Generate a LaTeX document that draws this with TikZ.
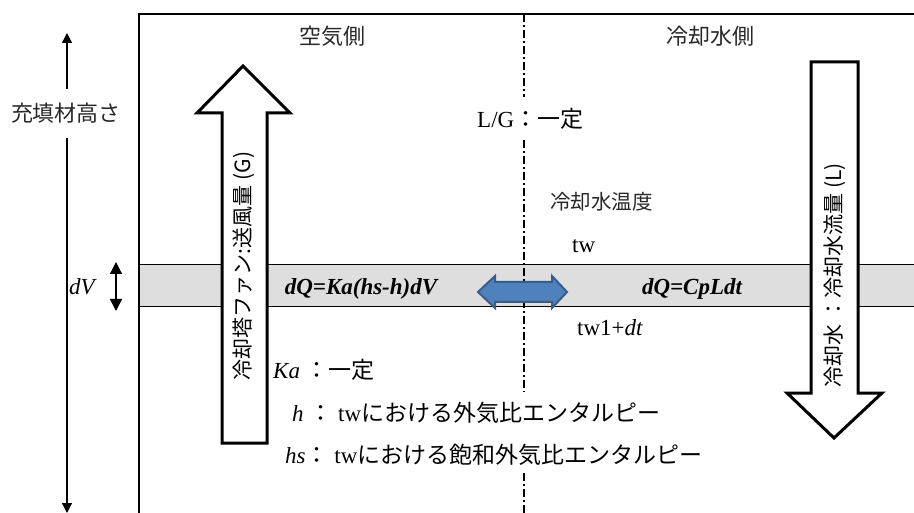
\documentclass[tikz,border=0pt]{standalone}
\usepackage{fontspec}
\setmainfont{Liberation Serif}
\newfontfamily\jp{Noto Sans CJK JP}
\usetikzlibrary{arrows.meta}
\definecolor{bluefill}{RGB}{79,129,189}
\definecolor{blueedge}{RGB}{56,93,138}
\definecolor{jptext}{RGB}{40,40,40}
\tikzset{
  frame/.style={line width=1.3pt},
  bandline/.style={line width=1pt},
  centerline/.style={line width=1.6pt, dash pattern=on 8pt off 3pt on 2pt off 3pt},
  bigarrow/.style={draw=black, line width=3pt, fill=white, line join=miter},
  flowarrow/.style={draw=blueedge, fill=bluefill, line width=2pt, line join=miter},
  jplabel/.style={inner sep=0pt, text=jptext, font={\jp\fontsize{22}{26}\selectfont}},
  jpsmall/.style={inner sep=0pt, text=jptext, font={\jp\fontsize{20.5}{24}\selectfont}},
  arrowtext/.style={inner sep=0pt, rotate=90, text=black, font={\jp\fontsize{21}{24}\selectfont}},
  serif/.style={inner sep=0pt, font={\fontsize{23}{27}\selectfont}},
  formula/.style={inner sep=0pt, font={\fontsize{23}{27}\selectfont\bfseries\itshape}},
  tri/.style={-{Triangle[length=10pt,width=10pt]}, line width=1.2pt},
}
\begin{document}
\begin{tikzpicture}[x=1pt,y=-1pt]
\useasboundingbox (0,0) rectangle (914,513);
% band
\fill[black!13] (139,265) rectangle (914,307);
\draw[bandline] (139,265) -- (914,265);
\draw[bandline] (139,307) -- (914,307);
% frame
\draw[frame] (139,513) -- (139,14) -- (914,14);
% centre dash-dot line
\draw[centerline] (524,14) -- (524,97);
\draw[centerline] (524,140) -- (524,392);
\draw[centerline] (524,473) -- (524,513);
% height arrow
\node[jplabel] (height) at (66,113) {充填材高さ};
\coordinate (htop) at (67,33);
\coordinate (hbot) at (67,513);
\coordinate (hup) at (67,89);
\coordinate (hdown) at (67,138);
\draw[tri] (hup) -- (htop);
\draw[tri] (hdown) -- (hbot);
% dV
\node[serif, anchor=base] (dv) at (82,295) {\itshape dV};
\coordinate (dvtop) at (116,262);
\coordinate (dvbot) at (116,311);
\draw[{Triangle[length=12pt,width=12pt]}-{Triangle[length=12pt,width=12pt]}, line width=1.2pt] (dvtop) -- (dvbot);
% blue exchange arrow
\draw[flowarrow] (478,292) -- (495,276) -- (495,282) -- (552,282) -- (552,276) -- (567,292)
  -- (552,308) -- (552,302) -- (495,302) -- (495,308) -- cycle;
% big arrows
\draw[bigarrow] (243,66) -- (290,113) -- (267,113) -- (267,443) -- (222,443) -- (222,113) -- (197,113) -- cycle;
\draw[bigarrow] (811,62) -- (858,62) -- (858,393) -- (882,393) -- (834,438) -- (787,393) -- (811,393) -- cycle;
\node[arrowtext] (gtext) at (244,266) {冷却塔ファン:送風量 (G)};
\node[arrowtext] (ltext) at (835,275) {冷却水 ：冷却水流量 (L)};
% headings
\node[jplabel] (air) at (332,36) {空気側};
\node[jplabel] (water) at (710,36) {冷却水側};
% texts
\node[serif, anchor=base west] (lg) at (477,128) {L/G{\jp ：一定}};
\node[jpsmall, anchor=west] (temp) at (550,202) {冷却水温度};
\node[serif, anchor=base west] (tw) at (572,253) {tw};
\node[formula, anchor=base] (f1) at (361,295) {dQ=Ka(hs-h)dV};
\node[formula, anchor=base] (f2) at (692,295) {dQ=CpLdt};
\node[serif, anchor=base west] (tw1) at (577,336) {tw1+\textit{dt}};
\node[serif, anchor=base west] (ka) at (273,378) {\textit{Ka} {\jp ：一定}};
\node[serif, anchor=base west] (h) at (292,421) {\textit{h} {\jp ：} tw{\jp における外気比エンタルピー}};
\node[serif, anchor=base west] (hs) at (285,463) {\textit{hs}{\jp ：} tw{\jp における飽和外気比エンタルピー}};
\end{tikzpicture}
\end{document}
